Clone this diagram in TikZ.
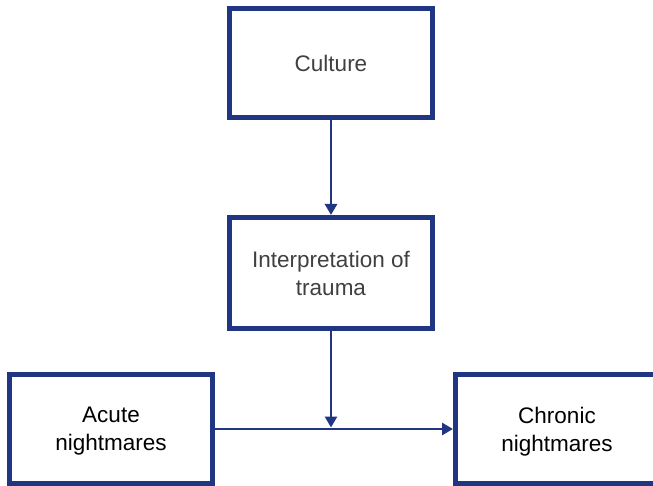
\documentclass[tikz,border=0pt]{standalone}
\usepackage{fontspec}
\setmainfont{Liberation Sans}
\usepackage{xcolor}
\usepackage{tikz}
\usetikzlibrary{arrows.meta,positioning,calc}
\definecolor{boxnavy}{RGB}{33,54,130}
\definecolor{textgray}{RGB}{64,64,64}
\tikzset{
  factorbox/.style={rectangle, draw=boxnavy, line width=5pt, fill=white, minimum width=203pt, minimum height=109pt, align=center, font=\fontsize{22.5}{28}\selectfont},
  flowarrow/.style={-{Triangle[length=11pt,width=12pt]}, line width=2.8pt, boxnavy}
}
\begin{document}
\begin{tikzpicture}[x=1pt,y=-1pt]
  \useasboundingbox (0,0) rectangle (653,486);
  % top chain
  \node[factorbox, text=textgray] (culture) at (331,63) {Culture};
  \node[factorbox, text=textgray, minimum height=111pt, text depth=-6pt] (interp) at (331,273) {Interpretation of\\trauma};

  % bottom row
  \node[factorbox, text=black, text depth=-10pt] (acute) at (111,429) {Acute\\nightmares};
  \node[factorbox, text=black, text depth=-10pt] (chronic) at (557,429) {Chronic\\nightmares};

  \draw[flowarrow] (culture) -- (interp);
  \draw[flowarrow] (acute) -- (chronic);
  \coordinate (meet) at (interp.south |- acute.east);
  \draw[flowarrow] (interp) -- ($(meet)+(0,-1.5)$);
\end{tikzpicture}
\end{document}
